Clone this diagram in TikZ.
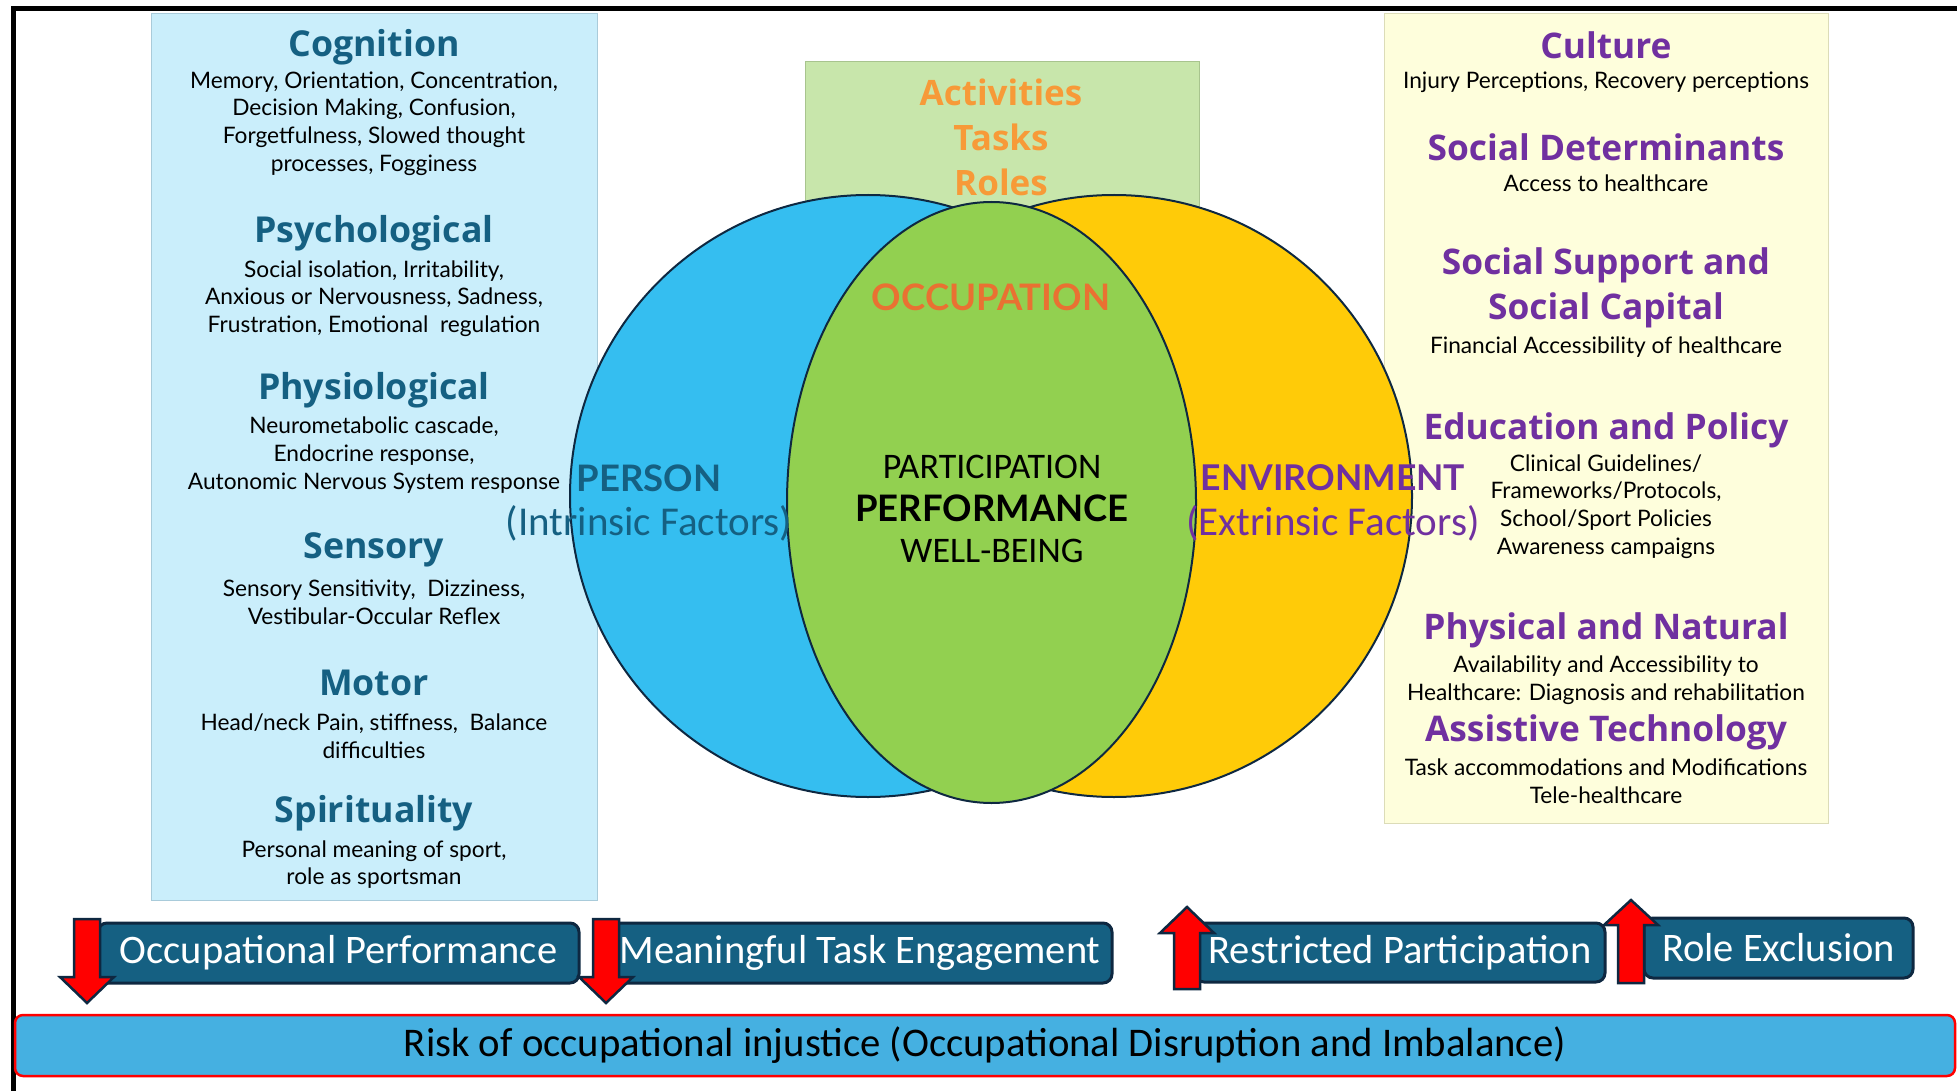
\documentclass[tikz,border=0pt]{standalone}
\usepackage{fontspec}
\setmainfont{Lato}
\newfontfamily\narrowfont{Carlito}
\newfontfamily\headfont{Open Sans}
\usepackage{xcolor}
\usepackage{tikz}

\definecolor{panelblue}{HTML}{CAEEFB}
\definecolor{panelblueline}{HTML}{A9CBDA}
\definecolor{panelyellow}{HTML}{FEFEDC}
\definecolor{panelyellowline}{HTML}{DCDCB8}
\definecolor{boxgreen}{HTML}{C8E6AB}
\definecolor{boxgreenline}{HTML}{A8C48E}
\definecolor{personblue}{HTML}{35BEF0}
\definecolor{envyellow}{HTML}{FFCB08}
\definecolor{occgreen}{HTML}{92D050}
\definecolor{navyline}{HTML}{0E2841}
\definecolor{headblue}{HTML}{156082}
\definecolor{occorange}{HTML}{E97132}
\definecolor{actorange}{HTML}{F79A38}
\definecolor{envpurple}{HTML}{7030A0}
\definecolor{riskblue}{HTML}{45B0E1}

\begin{document}
\begin{tikzpicture}[x=1pt,y=1pt,yscale=-1,xscale=1,
    lhead/.style={inner sep=0pt, align=center, text=headblue, font=\headfont\fontsize{35.7}{40}\selectfont\bfseries},
    ltext/.style={inner sep=0pt, align=center, font=\fontsize{22.7}{27.7}\selectfont},
    rhead/.style={inner sep=0pt, align=center, text=envpurple, font=\headfont\fontsize{35.3}{45}\selectfont\bfseries},
    taskbox/.style={draw=navyline, line width=3pt, fill=headblue, rounded corners=9pt, inner sep=0pt, minimum height=60, text=white, font=\narrowfont\fontsize{40.5}{44}\selectfont},
    redarrow/.style={draw=navyline, line width=2.5pt, fill=red, line join=miter}]
    \useasboundingbox (0,0) rectangle (1957,1091);

    %Straight Lines
    \draw [line width=5pt]  (13,1091) -- (13,8.5) -- (1957,8.5) ;

    %Shape: Rectangle
    \draw [draw=panelblueline, fill=panelblue, line width=1pt]  (151,14) rectangle (597,900) ;
    %Shape: Rectangle
    \draw [draw=panelyellowline, fill=panelyellow, line width=1pt]  (1384,14) rectangle (1828,823) ;
    %Shape: Rectangle
    \draw [draw=boxgreenline, fill=boxgreen, line width=1pt]  (805,62) rectangle (1199,213) ;

    %Shape: Ellipse
    \draw [draw=navyline, fill=personblue, line width=2pt]  (868,496) ellipse (298 and 301) ;
    %Shape: Ellipse
    \draw [draw=navyline, fill=envyellow, line width=2pt]  (1114,496) ellipse (298 and 301) ;
    %Shape: Ellipse
    \draw [draw=navyline, fill=occgreen, line width=2pt]  (991.5,502.5) ellipse (204.5 and 300.5) ;

    % Text Node
    \draw (1001,92) node [inner sep=0pt, text=actorange, font=\headfont\fontsize{35}{45}\selectfont\bfseries] (act) {Activities};
    % Text Node
    \draw (1001,137) node [inner sep=0pt, text=actorange, font=\headfont\fontsize{35}{45}\selectfont\bfseries] (tasks) {Tasks};
    % Text Node
    \draw (1001,182) node [inner sep=0pt, text=actorange, font=\headfont\fontsize{35}{45}\selectfont\bfseries] (roles) {Roles};
    % Text Node
    \draw (991,297) node [inner sep=0pt, text=occorange, font=\fontsize{36.5}{40}\selectfont\bfseries] (occ) {OCCUPATION};
    % Text Node
    \draw (992,467) node [inner sep=0pt, font=\narrowfont\fontsize{36}{40}\selectfont] (partic) {PARTICIPATION};
    % Text Node
    \draw (992,508) node [inner sep=0pt, font=\fontsize{36.5}{40}\selectfont\bfseries] (perf) {PERFORMANCE};
    % Text Node
    \draw (992,551) node [inner sep=0pt, font=\narrowfont\fontsize{36}{40}\selectfont] (wellb) {WELL-BEING};
    % Text Node
    \draw (649,478) node [inner sep=0pt, text=headblue, font=\fontsize{36.5}{40}\selectfont\bfseries] (person) {PERSON};
    % Text Node
    \draw (649,523) node [inner sep=0pt, text=headblue, font=\narrowfont\fontsize{41}{44}\selectfont] (intr) {(Intrinsic Factors)};
    % Text Node
    \draw (1333,478) node [inner sep=0pt, text=envpurple, font=\fontsize{35.5}{40}\selectfont\bfseries] (env) {ENVIRONMENT};
    % Text Node
    \draw (1333,523) node [inner sep=0pt, text=envpurple, font=\narrowfont\fontsize{41}{44}\selectfont] (extr) {(Extrinsic Factors)};

    % Text Node
    \draw (374,47) node [lhead] (cog) {Cognition};
    % Text Node
    \draw (374,123.5) node [ltext] (cogtxt) {Memory, Orientation, Concentration,\\Decision Making, Confusion,\\Forgetfulness, Slowed thought\\processes, Fogginess};
    % Text Node
    \draw (374,233) node [lhead] (psy) {Psychological};
    % Text Node
    \draw (374,298.7) node [ltext] (psytxt) {Social isolation, Irritability,\\Anxious or Nervousness, Sadness,\\Frustration, Emotional\ \ regulation};
    % Text Node
    \draw (374,390) node [lhead] (phy) {Physiological};
    % Text Node
    \draw (374,455) node [ltext] (phytxt) {Neurometabolic cascade,\\Endocrine response,\\Autonomic Nervous System response};
    % Text Node
    \draw (374,550) node [lhead] (sens) {Sensory};
    % Text Node
    \draw (374,602) node [ltext] (senstxt) {Sensory Sensitivity,\ \ Dizziness,\\Vestibular-Occular Reflex};
    % Text Node
    \draw (374,683) node [lhead] (mot) {Motor};
    % Text Node
    \draw (374,736) node [ltext] (mottxt) {Head/neck Pain, stiffness,\ \ Balance\\difficulties};
    % Text Node
    \draw (374,813) node [lhead] (spir) {Spirituality};
    % Text Node
    \draw (374,864.5) node [ltext] (spirtxt) {Personal meaning of sport,\\role as sportsman};

    % Text Node
    \draw (1606,45) node [rhead] (cult) {Culture};
    % Text Node
    \draw (1606,82) node [ltext] (culttxt) {Injury Perceptions, Recovery perceptions};
    % Text Node
    \draw (1606,147) node [rhead] (sdet) {Social Determinants};
    % Text Node
    \draw (1606,183) node [ltext] (sdettxt) {Access to healthcare};
    % Text Node
    \draw (1606,287.5) node [rhead] (ssup) {Social Support and\\Social Capital};
    % Text Node
    \draw (1606,347) node [ltext] (ssuptxt) {Financial Accessibility of healthcare};
    % Text Node
    \draw (1606,430) node [rhead] (edu) {Education and Policy};
    % Text Node
    \draw (1606,506.5) node [ltext] (edutxt) {Clinical Guidelines/\\Frameworks/Protocols,\\School/Sport Policies\\Awareness campaigns};
    % Text Node
    \draw (1606,630) node [rhead] (phys) {Physical and Natural};
    % Text Node
    \draw (1606,680.5) node [ltext] (phystxt) {Availability and Accessibility to\\Healthcare: Diagnosis and rehabilitation};
    % Text Node
    \draw (1606,732) node [rhead] (assist) {Assistive Technology};
    % Text Node
    \draw (1606,781) node [ltext] (assisttxt) {Task accommodations and Modifications\\Tele-healthcare};

    %Rounded Rect
    \draw (338.5,953) node [taskbox, minimum width=481] (occperf) {Occupational Performance};
    %Rounded Rect
    \draw (860,953) node [taskbox, minimum width=504] (taskeng) {Meaningful Task Engagement};
    %Rounded Rect
    \draw (1400,952.5) node [taskbox, minimum width=410, minimum height=59] (restr) {Restricted Participation};
    %Rounded Rect
    \draw (1778.5,948) node [taskbox, minimum width=269] (rolex) {Role Exclusion};

    %Down Arrow
    \draw [redarrow]  (74,919) -- (100,919) -- (100,977) -- (114,977) -- (87,1003) -- (60,977) -- (74,977) -- cycle ;
    %Down Arrow
    \draw [redarrow]  (593,919) -- (619,919) -- (619,977) -- (633,977) -- (606,1003) -- (579,977) -- (593,977) -- cycle ;
    %Up Arrow
    \draw [redarrow]  (1174,989) -- (1200,989) -- (1200,933) -- (1214,933) -- (1187,907) -- (1160,933) -- (1174,933) -- cycle ;
    %Up Arrow
    \draw [redarrow]  (1618,983) -- (1644,983) -- (1644,925) -- (1658,925) -- (1631,900) -- (1604,925) -- (1618,925) -- cycle ;

    %Rounded Rect
    \draw (985,1045.5) node [draw=red, line width=2.5pt, fill=riskblue, rounded corners=8pt, inner sep=0pt, minimum width=1940, minimum height=61, font=\narrowfont\fontsize{40.7}{44}\selectfont] (risk) {Risk of occupational injustice (Occupational Disruption and Imbalance)};

\end{tikzpicture}
\end{document}
